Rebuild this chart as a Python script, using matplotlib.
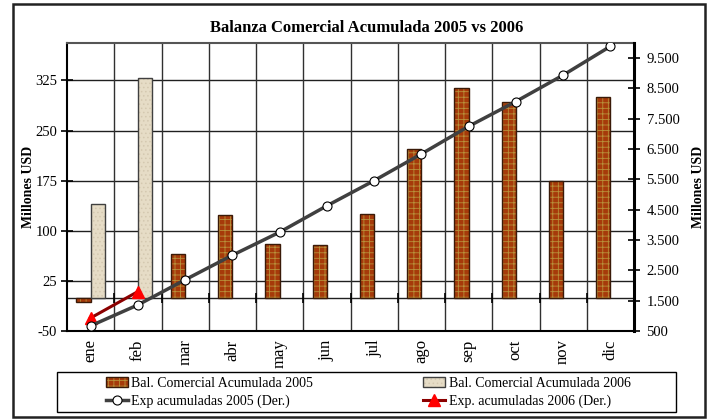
import matplotlib
matplotlib.use("Agg")
import matplotlib.pyplot as plt
import numpy as np
from matplotlib.patches import Patch, Rectangle
from matplotlib.lines import Line2D
from matplotlib.legend_handler import HandlerTuple
from matplotlib.ticker import FuncFormatter

plt.rcParams['font.family'] = ['Liberation Serif', 'DejaVu Serif']
plt.rcParams['hatch.linewidth'] = 0.6
plt.rcParams['axes.unicode_minus'] = False

months = ["ene", "feb", "mar", "abr", "may", "jun", "jul", "ago", "sep", "oct", "nov", "dic"]
bal_2005 = [-6, np.nan, 65, 123, 80, 78, 125, 222, 313, 293, 174, 300]
bal_2006 = [140, 328]
exp_2005 = [670, 1360, 2190, 3000, 3760, 4630, 5460, 6340, 7250, 8070, 8940, 9890]
exp_2006 = [930, 1800]

left_ticks = [-50, 25, 100, 175, 250, 325]
right_ticks = [500, 1500, 2500, 3500, 4500, 5500, 6500, 7500, 8500, 9500]

brick = '#A63A0A'
mortar = '#B8903A'
beige = '#E6DCC6'

fig = plt.figure(figsize=(7.12, 4.2), dpi=100)
W, H = 712, 420
ax = fig.add_axes([67 / W, 1 - 331 / H, (634 - 67) / W, (331 - 43) / H])

x = np.arange(len(months))
w = 0.3
# gridlines
for v in left_ticks[1:]:
    ax.axhline(v, color='#202020', lw=1.0, zorder=0)
for k in range(1, len(months)):
    ax.axvline(k - 0.5, color='#303030', lw=1.0, zorder=0)
ax.axhline(0, color='#202020', lw=1.0, zorder=0)
ax.plot(np.arange(1, len(months)) - 0.5, np.zeros(len(months) - 1), '|', color='black',
        ms=7, mew=1.2, zorder=1)

# bars 2005 (brick)
ax.bar(x - w / 2, bal_2005, width=w, color=brick, edgecolor=mortar, hatch='+++', lw=0, zorder=2)
ax.bar(x - w / 2, bal_2005, width=w, fill=False, edgecolor='#3a1a08', lw=1.0, zorder=3)
# bars 2006
x6 = x[:len(bal_2006)] + w / 2
ax.bar(x6, bal_2006, width=w, color=beige, edgecolor='#D4C8B0', hatch='....', lw=0, zorder=2)
ax.bar(x6, bal_2006, width=w, fill=False, edgecolor='#404040', lw=1.0, zorder=3)

ax.set_xlim(-0.5, len(months) - 0.5)
ax.set_ylim(-50, 381)
ax.set_yticks(left_ticks)
ax.set_xticks(x)
ax.set_xticklabels(months, rotation=90, fontsize=12)
ax.tick_params(axis='x', length=0, pad=6)
ax.tick_params(axis='y', direction='inout', length=8, width=1.2, labelsize=10.5, pad=3)
ax.set_ylabel("Millones USD", fontsize=10, fontweight='bold', labelpad=0)
for s in ['left', 'bottom']:
    ax.spines[s].set_color('black')
    ax.spines[s].set_linewidth(1.5)
ax.spines['top'].set_color('#555555')
ax.spines['top'].set_linewidth(1.5)

ax2 = ax.twinx()
ax2.plot(x[:len(exp_2006)], exp_2006, color='#8B0000', lw=2.2, marker='^', ms=8,
         mfc='#FF0000', mec='#FF0000', zorder=5)
ax2.plot(x, exp_2005, color='#404040', lw=2.5, marker='o', ms=6.5, mfc='white',
         mec='black', mew=0.8, zorder=6)
ax2.set_ylim(500, 10000)
ax2.set_yticks(right_ticks)
ax2.yaxis.set_major_formatter(FuncFormatter(lambda v, p: f"{int(v):,}".replace(",", ".")))
ax2.tick_params(axis='y', direction='inout', length=8, width=1.2, labelsize=10.5, pad=5)
ax2.spines['right'].set_linewidth(2.2)
ax2.spines['right'].set_color('black')
for s in ['left', 'bottom', 'top']:
    ax2.spines[s].set_visible(False)
ax2.set_ylabel("Millones USD", fontsize=10, fontweight='bold', rotation=90, labelpad=9)

fig.text(367 / W, 1 - 28 / H, "Balanza Comercial Acumulada 2005 vs 2006", ha='center', va='center',
         fontsize=12, fontweight='bold')

# outer border
fig.patches.append(Rectangle((13 / W, 1 - 417 / H), (705 - 13) / W, (417 - 4) / H,
                             transform=fig.transFigure, fill=False, edgecolor='#222222', lw=1.8))
# legend box
fig.patches.append(Rectangle((57 / W, 1 - 412 / H), (676 - 57) / W, (412 - 372) / H,
                             transform=fig.transFigure, fill=False, edgecolor='black', lw=1.0))

h1 = (Patch(facecolor=brick, edgecolor=mortar, hatch='+++', lw=0),
      Patch(fill=False, edgecolor='#3a1a08', lw=1.0))
h2 = (Patch(facecolor=beige, edgecolor='#D4C8B0', hatch='....', lw=0),
      Patch(fill=False, edgecolor='#404040', lw=1.0))
h3 = Line2D([], [], color='#404040', lw=2.5, marker='o', ms=6.5, mfc='white', mec='black', mew=0.8)
h4 = Line2D([], [], color='#8B0000', lw=2.2, marker='^', ms=8, mfc='#FF0000', mec='#FF0000')
fig.legend([h1, h3, h2, h4],
           ["Bal. Comercial Acumulada 2005", "Exp acumuladas 2005 (Der.)",
            "Bal. Comercial Acumulada 2006", "Exp. acumuladas 2006 (Der.)"],
           handler_map={tuple: HandlerTuple(ndivide=1)},
           loc='center', bbox_to_anchor=(368 / W, 1 - 392.5 / H), ncol=2, frameon=False,
           fontsize=10, handlelength=1.6, handletextpad=0.25, columnspacing=7.9,
           labelspacing=0.3, borderpad=0)

fig.savefig("out.png", dpi=100)
